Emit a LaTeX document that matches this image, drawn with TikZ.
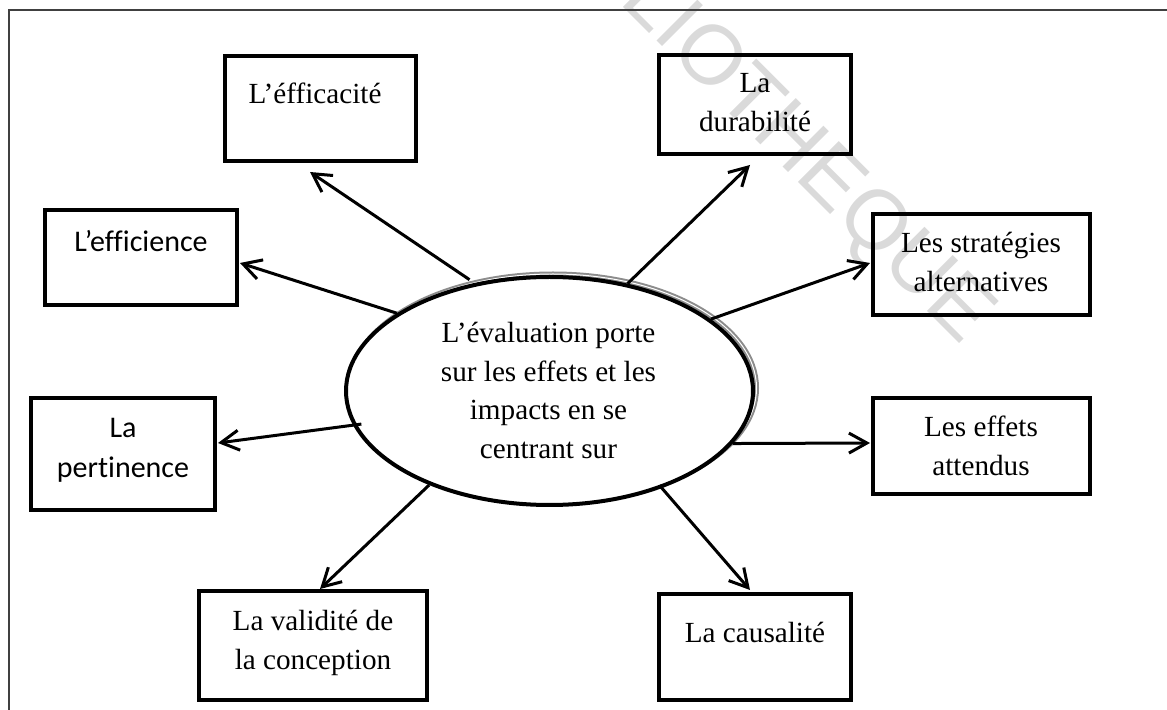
\documentclass[tikz,border=0pt]{standalone}
\usepackage{fontspec}
\setmainfont[Ligatures={TeX,NoCommon}]{Liberation Serif}
\newfontfamily\calfont[Ligatures={TeX,NoCommon}]{Carlito}
\newfontfamily\wmfont{Liberation Sans}
\usetikzlibrary{arrows.meta,shapes.geometric}
\newcommand{\lns}[1]{\begin{tabular}[t]{@{}c@{}}#1\end{tabular}}
\definecolor{framegray}{RGB}{64,64,64}
\definecolor{wmgray}{RGB}{218,218,218}
\definecolor{shadgray}{RGB}{140,140,140}
\tikzset{
  frame/.style={draw=framegray, line width=0.7pt},
  boxnode/.style={draw, rectangle, line width=2pt, inner sep=0pt},
  ellnode/.style={draw, ellipse, line width=2pt, inner sep=0pt, minimum width=203.5pt, minimum height=114pt},
  txt/.style={anchor=base, inner sep=0pt, font=\fontsize{14.6}{19.3}\selectfont},
  ctxt/.style={anchor=base, inner sep=0pt, font=\calfont\fontsize{15}{20}\selectfont},
  arr/.style={-{Straight Barb[length=9pt,width=10pt]}, line width=1.5pt},
  wm/.style={text=wmgray, inner sep=0pt, font=\wmfont\fontsize{42}{42}\selectfont}
}
\begin{document}
\begin{tikzpicture}[x=0.5pt,y=-0.5pt]
\useasboundingbox (0,0) rectangle (1167,710);
% watermark
\begin{scope}
  \clip (0,0) rectangle (1167,710);
  \node[wm, anchor=base east, rotate=-45] (wmark) at (962,346) {BIBLIOTHEQUE};
\end{scope}
% frame
\draw[frame] (9,710) -- (9,10) -- (1167,10);
% central ellipse with grey shadow
\node[ellnode, draw=shadgray, line width=1pt, double=white, double distance=0.5pt] (ellsh) at (553,388) {};
\node[ellnode, fill=white] (ell) at (549.5,391) {};
\node[txt] (t0) at (548.5,342.7) {\lns{L’évaluation porte\\sur les effets et les\\impacts en se\\centrant sur}};
% boxes
\node[boxnode, minimum width=95.5pt, minimum height=52.5pt] (effic) at (320.5,108.5) {};
\node[boxnode, minimum width=96pt, minimum height=47.5pt] (effi) at (141,257.5) {};
\node[boxnode, minimum width=92pt, minimum height=56pt] (pert) at (123,454) {};
\node[boxnode, minimum width=114pt, minimum height=54.5pt] (valid) at (313,645.5) {};
\node[boxnode, minimum width=96pt, minimum height=53pt] (caus) at (755,647) {};
\node[boxnode, minimum width=108.5pt, minimum height=48pt] (att) at (981.5,446) {};
\node[boxnode, minimum width=108.5pt, minimum height=50.5pt] (strat) at (981.5,264.5) {};
\node[boxnode, minimum width=96pt, minimum height=49.5pt] (dura) at (755,104.5) {};
% texts
\node[txt] (t1) at (315,104) {L’éfficacité};
\node[ctxt] (t2) at (141,252) {L’efficience};
\node[ctxt] (t3) at (123,438) {\lns{La\\pertinence}};
\node[txt] (t4) at (313,631) {\lns{La validité de\\la conception}};
\node[txt] (t5) at (755,642) {La causalité};
\node[txt] (t6) at (981,437) {\lns{Les effets\\attendus}};
\node[txt] (t7) at (981,253) {\lns{Les stratégies\\alternatives}};
\node[txt] (t8) at (755,93) {\lns{La\\durabilité}};
% arrows
\draw[arr] ([shift={(-2,-4)}]ell.126.2) -- ([shift={(-10.5,9)}]effic.south);
\draw[arr] (ell.153.9) -- ([shift={(1,5.5)}]effi.east);
\draw[arr] ([shift={(8,-1.5)}]ell.190.6) -- ([shift={(1,-11)}]pert.east);
\draw[arr] (ell.218.4) -- ([shift={(7,0)}]valid.north);
\draw[arr] ([shift={(-2,-3)}]ell.319.2) -- ([shift={(-5,-2)}]caus.north);
\draw[arr] (ell.344.2) -- ([shift={(-1,-3)}]att.west);
\draw[arr] (ell.24.6) -- ([shift={(-1,-1.5)}]strat.west);
\draw[arr] (ell.54.5) -- ([shift={(-5,9)}]dura.south);
\end{tikzpicture}
\end{document}
